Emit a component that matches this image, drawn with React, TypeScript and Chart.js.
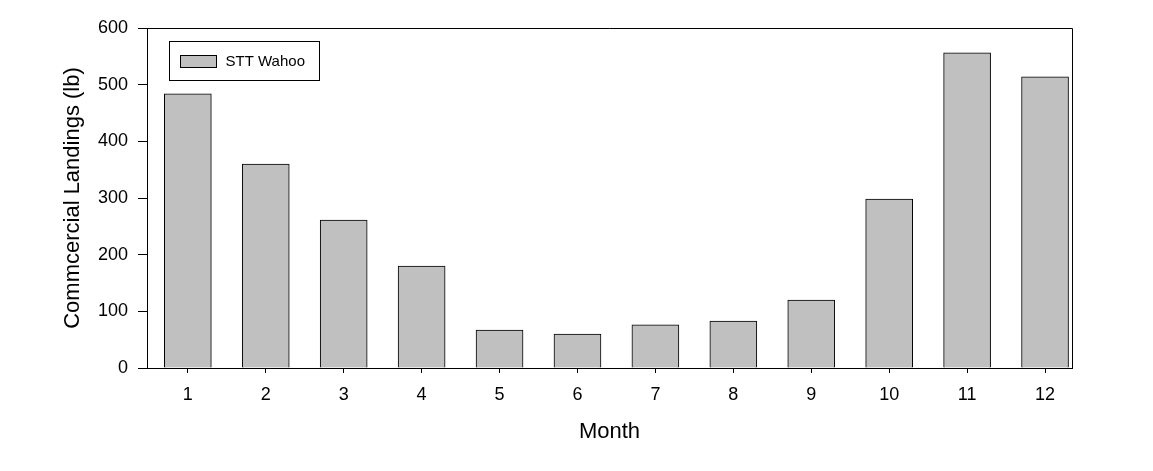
import { useEffect, useRef } from "react";
import { Chart, registerables } from "chart.js";

Chart.register(...registerables);

const months = [1, 2, 3, 4, 5, 6, 7, 8, 9, 10, 11, 12];
const landings = [484, 360, 261, 180, 67, 60, 76, 83, 120, 298, 556, 514];
const seriesLabel = "STT Wahoo";
const yTitle = "Commcercial Landings (lb)";
const xTitle = "Month";

const FONT = "'Liberation Sans', Arial, sans-serif";

const framePlugin = {
  id: "frameAndLegend",
  afterDraw(chart: any) {
    const { ctx, chartArea } = chart;
    const { left, top, right, bottom } = chartArea;
    ctx.save();
    ctx.strokeStyle = "#000";
    ctx.lineWidth = 1;
    ctx.beginPath();
    ctx.moveTo(left, Math.round(top) + 0.5);
    ctx.lineTo(Math.round(right) + 0.5, Math.round(top) + 0.5);
    ctx.lineTo(Math.round(right) + 0.5, bottom);
    ctx.stroke();

    // legend box
    const bx = left + 22.5;
    const by = top + 13.5;
    ctx.fillStyle = "#fff";
    ctx.fillRect(bx, by, 150, 39);
    ctx.strokeRect(bx, by, 150, 39);
    ctx.fillStyle = "#c0c0c0";
    ctx.fillRect(bx + 11, by + 14, 36, 12);
    ctx.strokeRect(bx + 11, by + 14, 36, 12);
    ctx.fillStyle = "#000";
    ctx.font = `15px ${FONT}`;
    ctx.textBaseline = "middle";
    ctx.textAlign = "left";
    const ds = chart.data.datasets[0];
    ctx.fillText(ds.label, bx + 56, by + 20);
    ctx.restore();
  },
};

export default function App() {
  const ref = useRef<HTMLCanvasElement | null>(null);

  useEffect(() => {
    const canvas = ref.current;
    if (!canvas) return;
    const chart = new Chart(canvas, {
      type: "bar",
      data: {
        datasets: [
          {
            label: seriesLabel,
            data: months.map((m, i) => ({ x: m, y: landings[i] })),
            backgroundColor: "#c0c0c0",
            borderColor: "#000",
            borderWidth: 1,
            barThickness: 47,
          },
        ],
      },
      options: {
        responsive: false,
        animation: false,
        devicePixelRatio: 1,
        layout: { padding: { left: 0, top: 28, right: 81, bottom: 0 } },
        plugins: {
          legend: { display: false },
          tooltip: { enabled: false },
        },
        scales: {
          x: {
            type: "linear",
            offset: false,
            min: 0.476,
            max: 12.346,
            afterBuildTicks: (s: any) => {
              s.ticks = months.map((v) => ({ value: v }));
            },
            afterFit: (s: any) => {
              s.height = 103;
            },
            grid: {
              offset: false,
              drawOnChartArea: false,
              tickLength: 5,
              color: "#000",
              tickColor: "#000",
            },
            border: { color: "#000", width: 1 },
            ticks: {
              color: "#000",
              font: { family: FONT, size: 18 },
              padding: 11,
              autoSkip: false,
              maxRotation: 0,
              callback: (v: any) => String(v),
            },
            title: {
              display: true,
              text: xTitle,
              color: "#000",
              font: { family: FONT, size: 22 },
              padding: { top: 0, bottom: 26 },
            },
          },
          y: {
            min: 0,
            max: 600,
            afterFit: (s: any) => {
              s.width = 147;
            },
            grid: {
              drawOnChartArea: false,
              tickLength: 9,
              color: "#000",
              tickColor: "#000",
            },
            border: { color: "#000", width: 1 },
            ticks: {
              stepSize: 100,
              color: "#000",
              font: { family: FONT, size: 18 },
              padding: 10,
            },
            title: {
              display: true,
              text: yTitle,
              color: "#000",
              font: { family: FONT, size: 22 },
              padding: { top: 60, bottom: 0 },
            },
          },
        },
      },
      plugins: [framePlugin],
    } as any);
    return () => chart.destroy();
  }, []);

  return (
    <div style={{ position: "fixed", left: 0, top: 0, width: 1153, height: 471, background: "#fff" }}>
      <canvas ref={ref} width={1153} height={471} style={{ width: 1153, height: 471 }} />
    </div>
  );
}
